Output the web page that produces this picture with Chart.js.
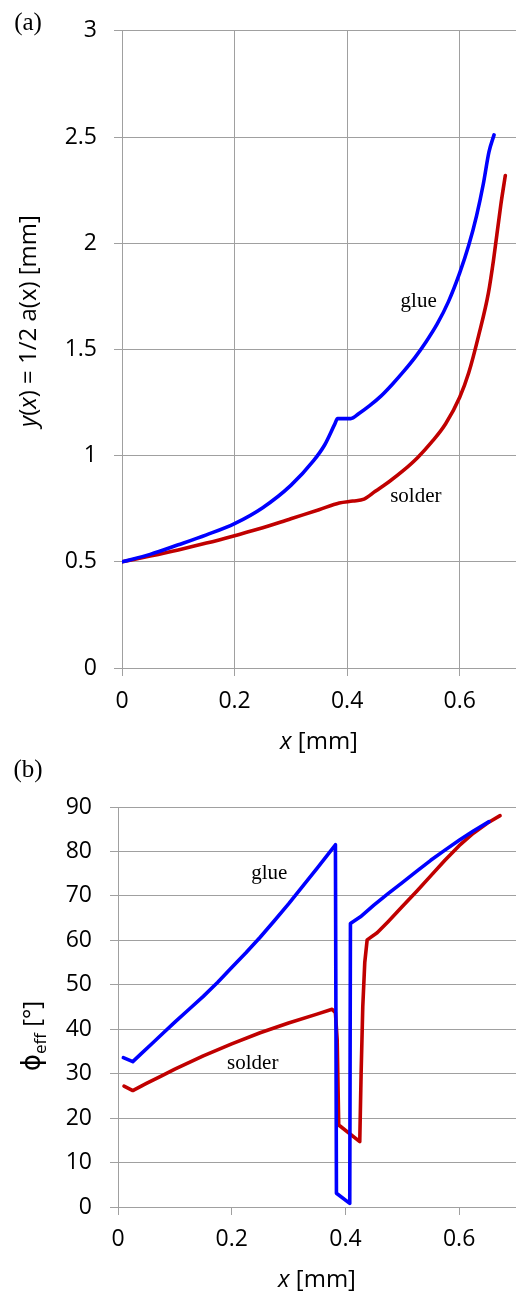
<!DOCTYPE html>
<html lang="en">
<head>
  <meta charset="UTF-8">
  <title>y(x) and effective angle along x</title>
  <script src="https://cdn.jsdelivr.net/npm/chart.js"></script>
  <style>
    html, body { margin: 0; padding: 0; background: #fff; }
    .box { position: absolute; left: 0; width: 516px; }
    #boxA { top: 0; height: 760px; }
    #boxB { top: 745px; height: 551px; }
  </style>
</head>
<body>
  <div class="box" id="boxA"><canvas id="chartA"></canvas></div>
  <div class="box" id="boxB"><canvas id="chartB"></canvas></div>
  <script>
    // (a) half width y(x) = 1/2 a(x) [mm]
    const glueAX = [0, 0.05, 0.1, 0.15, 0.2, 0.25, 0.3, 0.34, 0.36, 0.378, 0.383, 0.4065, 0.421, 0.44, 0.46, 0.48, 0.5, 0.52, 0.54, 0.56, 0.58, 0.6, 0.616, 0.63, 0.642, 0.652, 0.661];
    const glueAY = [0.5, 0.535, 0.58, 0.627, 0.68, 0.755, 0.86, 0.975, 1.05, 1.148, 1.174, 1.174, 1.198, 1.235, 1.28, 1.335, 1.395, 1.46, 1.535, 1.62, 1.725, 1.86, 1.99, 2.13, 2.28, 2.43, 2.51];
    const solderAX = [0, 0.05, 0.1, 0.15, 0.2, 0.25, 0.3, 0.35, 0.386, 0.41, 0.43, 0.45, 0.475, 0.5, 0.525, 0.55, 0.575, 0.6, 0.616, 0.6336, 0.651, 0.66, 0.666, 0.673, 0.681];
    const solderAY = [0.5, 0.527, 0.556, 0.588, 0.623, 0.66, 0.703, 0.745, 0.777, 0.786, 0.795, 0.832, 0.878, 0.93, 0.99, 1.063, 1.15, 1.275, 1.39, 1.565, 1.766, 1.92, 2.04, 2.18, 2.319];

    // (b) effective angle phi_eff [deg]
    const glueBX = [0.0094, 0.026, 0.04, 0.06, 0.08, 0.1, 0.125, 0.15, 0.175, 0.2, 0.225, 0.25, 0.275, 0.3, 0.325, 0.35, 0.3824, 0.3842, 0.4076, 0.4088, 0.4264, 0.45, 0.475, 0.5, 0.525, 0.55, 0.575, 0.6, 0.625, 0.6526];
    const glueBY = [33.6, 32.7, 34.4, 36.8, 39.2, 41.6, 44.5, 47.4, 50.5, 53.9, 57.2, 60.7, 64.4, 68.2, 72.2, 76.2, 81.5, 3.1, 0.8, 63.8, 65.3, 67.9, 70.5, 73.0, 75.5, 78.0, 80.3, 82.5, 84.6, 86.7];
    const solderBX = [0.0106, 0.026, 0.05, 0.075, 0.1, 0.15, 0.2, 0.25, 0.3, 0.35, 0.3765, 0.3824, 0.3855, 0.3882, 0.4252, 0.4276, 0.4305, 0.434, 0.4382, 0.4558, 0.475, 0.5, 0.525, 0.55, 0.575, 0.6, 0.625, 0.65, 0.672];
    const solderBY = [27.2, 26.2, 27.8, 29.4, 31.0, 34.0, 36.7, 39.2, 41.4, 43.4, 44.5, 43.7, 37.6, 18.45, 14.7, 30.1, 45, 55, 60.1, 61.7, 64.2, 67.6, 71.0, 74.5, 78.0, 81.3, 84.1, 86.4, 88.05];

    const xTicks = [0, 0.2, 0.4, 0.6];
    const yTicksA = [0, 0.5, 1, 1.5, 2, 2.5, 3];
    const yTicksB = [0, 10, 20, 30, 40, 50, 60, 70, 80, 90];

    const BLUE = '#0000ff';
    const RED = '#c00000';
    const GRID = '#a0a0a0';
    const SANS = '"Open Sans"';
    const SERIF = '"Liberation Serif"';

    const pts = (xs, ys) => xs.map((x, i) => ({ x: x, y: ys[i] }));

    // draws text made of several font runs, optionally rotated
    function drawParts(ctx, parts, cx, cy, rotate, size) {
      ctx.save();
      ctx.translate(cx, cy);
      if (rotate) ctx.rotate(-Math.PI / 2);
      let w = 0;
      parts.forEach(p => { ctx.font = p.f; w += ctx.measureText(p.t).width; });
      let x = -w / 2;
      const base = size * 0.36;
      ctx.textBaseline = 'alphabetic';
      ctx.textAlign = 'left';
      ctx.fillStyle = '#000';
      parts.forEach(p => {
        ctx.font = p.f;
        ctx.fillText(p.t, x, base + (p.dy || 0));
        x += ctx.measureText(p.t).width;
      });
      ctx.restore();
    }

    const textPlugin = {
      id: 'texts',
      afterDraw(chart, args, opts) {
        const ctx = chart.ctx;
        (opts.items || []).forEach(it => {
          let px, py;
          if (it.data) {
            px = chart.scales.x.getPixelForValue(it.data[0]);
            py = chart.scales.y.getPixelForValue(it.data[1]);
          } else {
            px = it.at[0];
            py = it.at[1];
          }
          drawParts(ctx, it.parts, px, py, it.rotate, it.size);
        });
      }
    };

    function makeChart(id, sets, yTicks, yMax, cfg) {
      return new Chart(document.getElementById(id), {
        type: 'line',
        data: {
          datasets: sets.map(s => ({
            data: s.data,
            borderColor: s.color,
            borderWidth: 3.6,
            pointRadius: 0,
            fill: false,
            tension: 0,
            cubicInterpolationMode: cfg.smooth ? 'monotone' : 'default',
            borderJoinStyle: 'round',
            borderCapStyle: 'round'
          }))
        },
        options: {
          responsive: true,
          maintainAspectRatio: false,
          animation: false,
          layout: { padding: { top: cfg.top, right: 0, left: 0, bottom: 0 } },
          plugins: {
            legend: { display: false },
            tooltip: { enabled: false },
            texts: { items: cfg.items }
          },
          scales: {
            x: {
              type: 'linear',
              min: 0,
              max: 0.7,
              afterBuildTicks: axis => { axis.ticks = xTicks.map(v => ({ value: v })); },
              afterFit: s => { s.height = cfg.xh; },
              ticks: {
                color: '#000',
                font: { family: SANS, size: 23 },
                padding: cfg.xpad,
                maxRotation: 0,
                callback: v => String(v)
              },
              grid: { color: GRID, lineWidth: 1, tickLength: 8, drawOnChartArea: cfg.xgrid },
              border: { color: GRID, width: 1 }
            },
            y: {
              min: 0,
              max: yMax,
              afterBuildTicks: axis => { axis.ticks = yTicks.map(v => ({ value: v })); },
              afterFit: s => { s.width = cfg.yw; },
              ticks: {
                color: '#000',
                font: { family: SANS, size: 23 },
                padding: cfg.ypad,
                callback: v => String(v)
              },
              grid: { color: GRID, lineWidth: 1, tickLength: 8 },
              border: { color: GRID, width: 1 }
            }
          }
        },
        plugins: [textPlugin]
      });
    }

    const tickFont = 'normal 24px ' + SANS;
    const italFont = 'italic 24px ' + SANS;

    makeChart('chartA', [
      { data: pts(glueAX, glueAY), color: BLUE },
      { data: pts(solderAX, solderAY), color: RED }
    ], yTicksA, 3, {
      top: 26, xh: 92, yw: 122, xpad: 12, ypad: 17, xgrid: true, smooth: true,
      items: [
        { at: [28, 21], size: 25, parts: [{ t: '(a)', f: '25px ' + SERIF }] },
        { data: [0.527, 1.733], size: 21, parts: [{ t: 'glue', f: '21px ' + SERIF }] },
        { data: [0.522, 0.818], size: 21, parts: [{ t: 'solder', f: '21px ' + SERIF }] },
        { at: [27, 321], rotate: true, size: 24, parts: [
          { t: 'y', f: italFont }, { t: '(', f: tickFont }, { t: 'x', f: italFont },
          { t: ') = 1/2 a(x) [mm]', f: tickFont }
        ] },
        { at: [319, 740], size: 24, parts: [{ t: 'x', f: italFont }, { t: ' [mm]', f: tickFont }] }
      ]
    });

    makeChart('chartB', [
      { data: pts(glueBX, glueBY), color: BLUE },
      { data: pts(solderBX, solderBY), color: RED }
    ], yTicksB, 90, {
      top: 62, xh: 89, yw: 118, xpad: 11, ypad: 18, xgrid: false, smooth: false,
      items: [
        { at: [28, 23], size: 25, parts: [{ t: '(b)', f: '25px ' + SERIF }] },
        { data: [0.266, 75.4], size: 21, parts: [{ t: 'glue', f: '21px ' + SERIF }] },
        { data: [0.237, 32.85], size: 21, parts: [{ t: 'solder', f: '21px ' + SERIF }] },
        { at: [31, 291], rotate: true, size: 24, parts: [
          { t: 'ϕ', f: '26px "DejaVu Sans"' }, { t: 'eff', f: '17px ' + SANS, dy: 6 },
          { t: ' [°]', f: tickFont }
        ] },
        { at: [317, 533], size: 24, parts: [{ t: 'x', f: italFont }, { t: ' [mm]', f: tickFont }] }
      ]
    });
  </script>
</body>
</html>
